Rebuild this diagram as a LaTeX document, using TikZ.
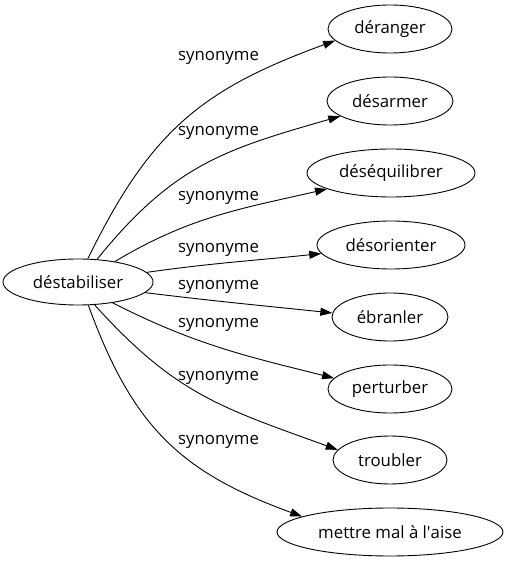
\documentclass[tikz,border=0pt]{standalone}
\usepackage{fontspec}
\setmainfont{Open Sans}
\usetikzlibrary{arrows.meta,shapes.geometric}
\begin{document}
\begin{tikzpicture}[x=1pt,y=1pt,
  word/.style={draw,ellipse,line width=0.9pt,inner sep=0pt,minimum height=48pt,font=\fontsize{16.8}{18}\selectfont},
  lbl/.style={anchor=base west,inner sep=0pt,font=\fontsize{16.8}{18}\selectfont},
  edge/.style={line width=0.9pt,-{Triangle[length=12pt,width=8pt]}}]
\useasboundingbox (0,0) rectangle (508,563);
\node[word,minimum width=150pt,minimum height=46pt] (src) at (78,281) {déstabiliser};
\node[word,minimum width=124pt] (t1) at (390,534) {déranger};
\node[word,minimum width=126pt] (t2) at (390,462) {désarmer};
\node[word,minimum width=168pt] (t3) at (391,390) {déséquilibrer};
\node[word,minimum width=148pt] (t4) at (391,318) {désorienter};
\node[word,minimum width=116pt] (t5) at (390,246) {ébranler};
\node[word,minimum width=124pt] (t6) at (390,174) {perturber};
\node[word,minimum width=114pt] (t7) at (390,103) {troubler};
\node[word,minimum width=226pt] (t8) at (390,31) {mettre mal à l\textquotesingle aise};
\node[lbl] (l1) at (178,502) {synonyme};
\node[lbl] (l2) at (178,427) {synonyme};
\node[lbl] (l3) at (178,362) {synonyme};
\node[lbl] (l4) at (178,310) {synonyme};
\node[lbl] (l5) at (178,273.5) {synonyme};
\node[lbl] (l6) at (178,235) {synonyme};
\node[lbl] (l7) at (178,182) {synonyme};
\node[lbl] (l8) at (178,118.5) {synonyme};
\draw[edge] (src.67) to[out=64,in=200,looseness=1.1] (t1.192);
\draw[edge] (src.50) to[out=51,in=196,looseness=1.1] (t2.197);
\draw[edge] (src.29) to[out=31,in=193] (t3.194);
\draw[edge] (src.8) to[out=8,in=186] (t4.187);
\draw[edge] (src.-9) to[out=-7,in=174] (t5.176);
\draw[edge] (src.-31) to[out=-27,in=166] (t6.169);
\draw[edge] (src.-54) to[out=-48,in=160,looseness=1.1] (t7.169);
\draw[edge] (src.-66) to[out=-70,in=160,looseness=1.1] (t8.170);
\end{tikzpicture}
\end{document}
